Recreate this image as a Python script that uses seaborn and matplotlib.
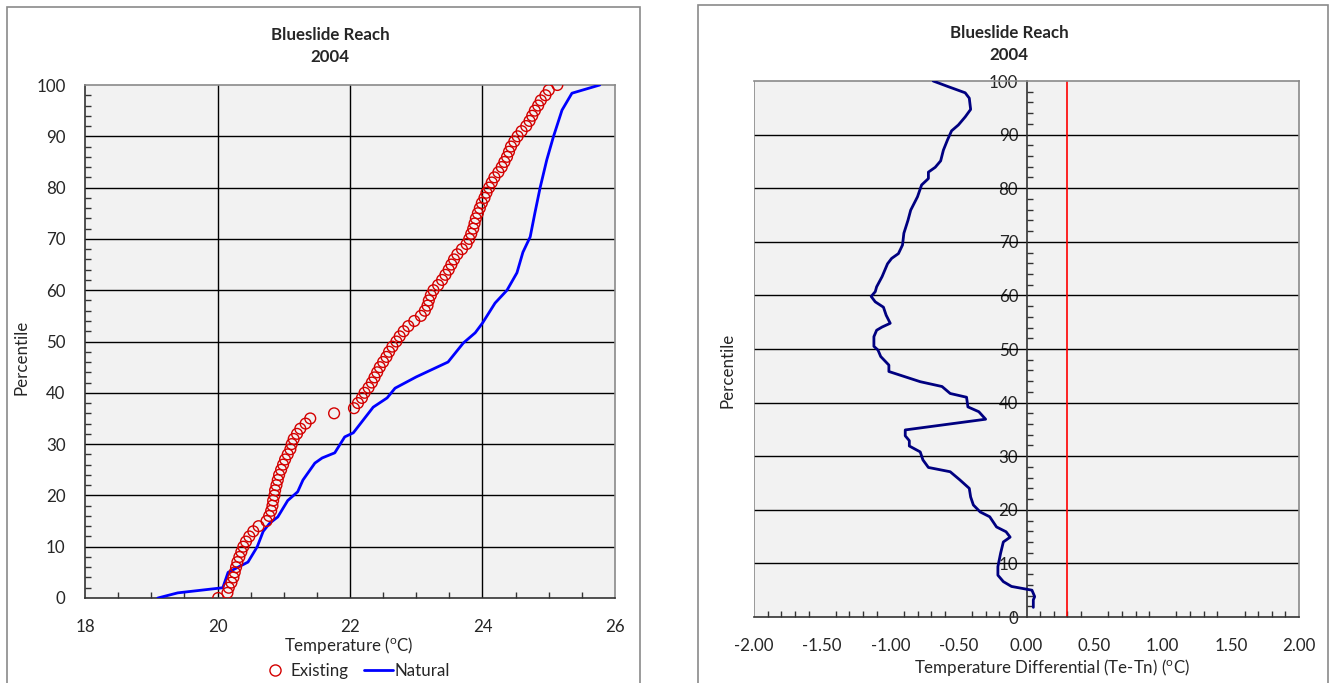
import matplotlib
matplotlib.use('Agg')
import matplotlib.pyplot as plt
import seaborn as sns
import numpy as np
from matplotlib.lines import Line2D
from matplotlib.patches import Rectangle
from matplotlib.ticker import MultipleLocator, FormatStrFormatter

# ---- datos ----
# Percentiles de temperatura: condicion actual (circulos)
existing_pct = np.arange(0, 101)
existing_T = [20.01, 20.15, 20.17, 20.21, 20.24, 20.26, 20.28, 20.30, 20.33, 20.36,
              20.39, 20.43, 20.48, 20.54, 20.62, 20.74, 20.78, 20.81, 20.83, 20.84,
              20.86, 20.87, 20.89, 20.91, 20.93, 20.96, 20.99, 21.02, 21.06, 21.10,
              21.12, 21.15, 21.20, 21.25, 21.33, 21.40, 21.76, 22.06, 22.12, 22.18,
              22.22, 22.28, 22.33, 22.37, 22.41, 22.45, 22.50, 22.55, 22.59, 22.64,
              22.70, 22.75, 22.81, 22.88, 22.97, 23.07, 23.13, 23.17, 23.19, 23.22,
              23.26, 23.33, 23.39, 23.44, 23.49, 23.53, 23.57, 23.62, 23.69, 23.76,
              23.80, 23.83, 23.86, 23.88, 23.90, 23.93, 23.96, 23.99, 24.03, 24.06,
              24.10, 24.14, 24.18, 24.24, 24.29, 24.33, 24.37, 24.40, 24.43, 24.48,
              24.53, 24.59, 24.66, 24.71, 24.75, 24.79, 24.84, 24.88, 24.95, 25.00,
              25.13]

# Condicion natural (linea azul)
natural_pct = [0, 1, 2, 5, 6, 7, 10, 13, 14.6, 15.8, 19, 20.7, 23, 26.3, 27.3, 28.3,
               31.4, 32.2, 37.2, 39, 40.9, 43.1, 46, 49.7, 51.7, 53.6, 57.5, 60, 63.4,
               67.4, 70.4, 75, 80, 85.4, 89.9, 95.1, 98.4, 100]
natural_T = [19.1, 19.4, 20.08, 20.16, 20.31, 20.46, 20.6, 20.69, 20.79, 20.91, 21.06,
             21.21, 21.29, 21.47, 21.58, 21.77, 21.92, 22.05, 22.35, 22.56, 22.68, 23.0,
             23.48, 23.71, 23.89, 24.0, 24.19, 24.37, 24.52, 24.61, 24.72, 24.79, 24.87,
             24.97, 25.07, 25.2, 25.35, 25.77]

# Diferencial Te-Tn por percentil
diff_pct = [1.8, 3.2, 3.8, 5.0, 5.7, 6.6, 7.8, 9.4, 11.9, 14.0,
            14.9, 15.9, 16.8, 18.7, 19.6, 20.9, 22.4, 24.0, 25.6, 27.1,
            27.9, 29.3, 30.8, 31.9, 32.9, 33.8, 34.9, 36.9, 38.3, 39.2,
            41.0, 41.7, 43.0, 43.9, 45.8, 47.0, 48.6, 49.8, 50.5, 52.3,
            53.5, 54.1, 54.8, 56.3, 57.8, 58.8, 59.8, 60.7, 61.6, 63.5,
            64.7, 65.9, 66.9, 67.8, 69.4, 71.6, 74.0, 75.9, 78.4, 80.6,
            81.8, 83.0, 83.9, 85.1, 87.1, 89.0, 90.7, 91.8, 93.3, 94.7,
            96.8, 97.8, 99.0, 100.0]
diff_val = [0.05, 0.05, 0.06, 0.04, -0.11, -0.17, -0.21, -0.21, -0.19, -0.17,
            -0.12, -0.15, -0.22, -0.27, -0.34, -0.39, -0.41, -0.42, -0.49, -0.56,
            -0.72, -0.76, -0.78, -0.86, -0.86, -0.89, -0.89, -0.30, -0.35, -0.43,
            -0.44, -0.56, -0.62, -0.78, -1.01, -1.01, -1.07, -1.09, -1.12, -1.12,
            -1.10, -1.06, -1.00, -1.03, -1.05, -1.11, -1.14, -1.11, -1.10, -1.06,
            -1.04, -1.02, -0.99, -0.94, -0.91, -0.90, -0.87, -0.85, -0.80, -0.77,
            -0.72, -0.72, -0.67, -0.63, -0.61, -0.58, -0.55, -0.50, -0.45, -0.41,
            -0.42, -0.45, -0.58, -0.685]
umbral = 0.30  # linea roja de referencia

titulo = 'Blueslide Reach\n2004'

# ---- estilo ----
sns.set_theme(style='white')
plt.rcParams['font.family'] = ['Lato', 'DejaVu Sans']
plt.rcParams['mathtext.fontset'] = 'custom'
plt.rcParams['mathtext.rm'] = 'Lato'
plt.rcParams['mathtext.it'] = 'Lato:italic'
plt.rcParams['mathtext.bf'] = 'Lato:bold'

W, H = 1330, 683
fig = plt.figure(figsize=(W / 100, H / 100), dpi=100)
fig.patch.set_facecolor('white')

GRIS = '#8a8a8a'
FONDO = '#f2f2f2'
FS = 12.2      # etiquetas de ticks y ejes
FT = 12.2      # titulos

# marcos exteriores de cada grafico
fig.patches.append(Rectangle((7 / W, -0.05), (640 - 7) / W, 1 - 7 / H + 0.05,
                             transform=fig.transFigure, fill=False, edgecolor=GRIS, lw=1.2))
fig.patches.append(Rectangle((698 / W, -0.05), (1328 - 698) / W, 1 - 5 / H + 0.05,
                             transform=fig.transFigure, fill=False, edgecolor=GRIS, lw=1.2))

# ---- grafico izquierdo ----
ax1 = fig.add_axes([85 / W, (H - 598) / H, 530 / W, 513 / H])
ax1.set_facecolor(FONDO)
for v in [20, 22, 24]:
    ax1.axvline(v, color='black', lw=1, zorder=1)
for h in range(10, 100, 10):
    ax1.axhline(h, color='black', lw=1, zorder=1)

sns.lineplot(x=natural_T, y=natural_pct, ax=ax1, sort=False, estimator=None,
             color='#0000ff', lw=2, zorder=3)
sns.scatterplot(x=existing_T, y=existing_pct, ax=ax1, marker='o', s=60,
                facecolors='none', edgecolors='#d40000', linewidth=1, zorder=4)

ax1.set_xlim(18, 26)
ax1.set_ylim(0, 100)
ax1.xaxis.set_major_locator(MultipleLocator(2))
ax1.xaxis.set_minor_locator(MultipleLocator(0.5))
ax1.yaxis.set_major_locator(MultipleLocator(10))
ax1.yaxis.set_minor_locator(MultipleLocator(2))
ax1.tick_params(axis='x', which='major', direction='inout', length=6, width=1,
                color='#333333', labelsize=FS, pad=12)
ax1.tick_params(axis='x', which='minor', direction='in', length=4, width=1,
                color='#333333', bottom=True)
ax1.tick_params(axis='y', which='major', direction='out', length=6, width=1,
                color='#333333', labelsize=FS, pad=8)
ax1.tick_params(axis='y', which='minor', direction='in', length=4, width=1,
                color='#333333', left=True)
ax1.set_xlabel('')
ax1.set_ylabel('')
for s in ['top', 'right']:
    ax1.spines[s].set_color(GRIS)
    ax1.spines[s].set_linewidth(1.2)
for s in ['left', 'bottom']:
    ax1.spines[s].set_color('#333333')
    ax1.spines[s].set_linewidth(1.2)

fig.text(330 / W, 1 - 46 / H, titulo, ha='center', va='center', fontsize=FT,
         fontweight='bold', linespacing=1.45)
fig.text(349 / W, 1 - 646 / H, r'Temperature ($^{\rm o}$C)', ha='center', va='center',
         fontsize=FS)
fig.text(22 / W, 1 - 357 / H, 'Percentile', ha='center', va='center', rotation=90,
         fontsize=FS)

manejadores = [
    Line2D([], [], marker='o', linestyle='none', markerfacecolor='none',
           markeredgecolor='#d40000', markersize=8, markeredgewidth=1),
    Line2D([], [], color='#0000ff', lw=2),
]
fig.legend(manejadores, ['Existing', 'Natural'], loc='center',
           bbox_to_anchor=(355 / W, 1 - 671 / H), ncol=2, frameon=False,
           fontsize=FS, handlelength=1.7, handletextpad=0.1, columnspacing=0.9,
           borderaxespad=0, borderpad=0)

# ---- grafico derecho ----
ax2 = fig.add_axes([754 / W, (H - 617) / H, 545 / W, 536 / H])
ax2.set_facecolor(FONDO)
for h in range(10, 100, 10):
    ax2.axhline(h, color='black', lw=1, zorder=1)
ax2.axvline(-2, color=GRIS, lw=1.2, zorder=1)
ax2.plot([umbral, umbral], [0, 100], color='#ff0000', lw=1.2, zorder=2)

sns.lineplot(x=diff_val, y=diff_pct, ax=ax2, sort=False, estimator=None,
             color='#000080', lw=2, zorder=3)

ax2.set_xlim(-2, 2)
ax2.set_ylim(0, 100)
ax2.xaxis.set_major_locator(MultipleLocator(0.5))
ax2.xaxis.set_minor_locator(MultipleLocator(0.1))
ax2.xaxis.set_major_formatter(FormatStrFormatter('%.2f'))
ax2.yaxis.set_major_locator(MultipleLocator(10))
ax2.yaxis.set_minor_locator(MultipleLocator(2))
ax2.spines['left'].set_position(('data', 0))
ax2.tick_params(axis='x', which='major', direction='inout', length=6, width=1,
                color='#333333', labelsize=FS, pad=12)
ax2.tick_params(axis='x', which='minor', direction='in', length=4, width=1,
                color='#333333', bottom=True)
ax2.tick_params(axis='y', which='major', direction='inout', length=6, width=1,
                color='#333333', labelsize=FS, pad=3)
ax2.tick_params(axis='y', which='minor', direction='in', length=4, width=1,
                color='#333333', left=True)
ax2.set_xlabel('')
ax2.set_ylabel('')
for s in ['top', 'right']:
    ax2.spines[s].set_color(GRIS)
    ax2.spines[s].set_linewidth(1.2)
for s in ['left', 'bottom']:
    ax2.spines[s].set_color('#333333')
    ax2.spines[s].set_linewidth(1.2)

fig.text(1009 / W, 1 - 44 / H, titulo, ha='center', va='center', fontsize=FT,
         fontweight='bold', linespacing=1.45)
fig.text(1052 / W, 1 - 668 / H, r'Temperature Differential (Te-Tn) ($^{\rm o}$C)',
         ha='center', va='center', fontsize=FS)
fig.text(728 / W, 1 - 370 / H, 'Percentile', ha='center', va='center', rotation=90,
         fontsize=FS)

fig.savefig('out.png', dpi=100, facecolor='white')
plt.close(fig)
